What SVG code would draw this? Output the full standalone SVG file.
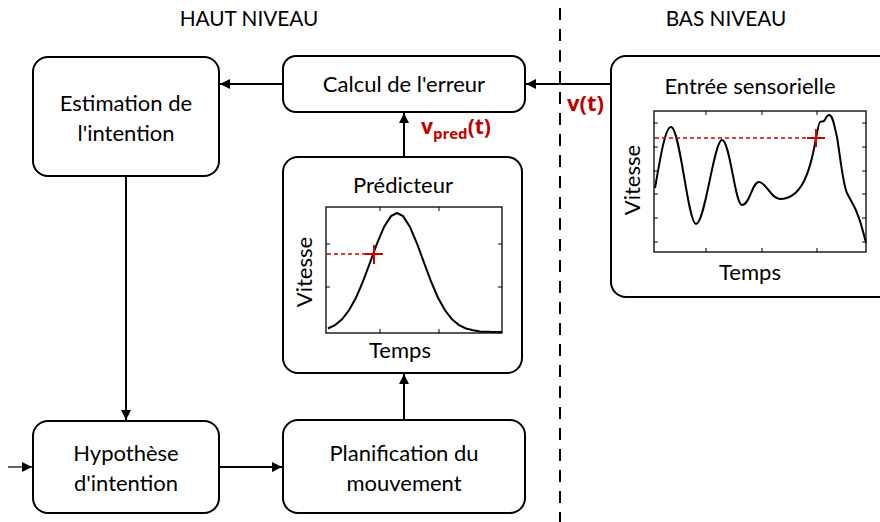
<svg xmlns="http://www.w3.org/2000/svg" width="880" height="522" viewBox="0 0 880 522">
<style>
.box{fill:#fff;stroke:#000;stroke-width:2}
.t{font-family:Lato,"Open Sans","Liberation Sans",sans-serif;font-size:22px;fill:#000;text-anchor:middle}
.h{font-size:20.8px}
.conn{stroke:#000;stroke-width:2;fill:none}
.axis{fill:#fff;stroke:#000;stroke-width:1.3}
.curve{fill:none;stroke:#000;stroke-width:2}
.red{fill:#c00000;font-family:"Open Sans","Liberation Sans",sans-serif;font-weight:bold}
.rdash{stroke:#d00000;stroke-width:1.6;stroke-dasharray:4,3;fill:none}
.cross{stroke:#d00000;stroke-width:2}
.tick{stroke:#000;stroke-width:1}
</style>
<defs>
<marker id="ah" viewBox="0 0 10 10" refX="10" refY="5" markerWidth="14" markerHeight="10" markerUnits="userSpaceOnUse" orient="auto">
<path d="M0,0 L10,5 L0,10 z" fill="#000"/>
</marker>
</defs>

<text class="t h" x="249" y="26">HAUT NIVEAU</text>
<text class="t h" x="726" y="26">BAS NIVEAU</text>
<line x1="560" y1="8" x2="560" y2="522" stroke="#000" stroke-width="2" stroke-dasharray="12,9"/>

<g id="connectors">
<line class="conn" x1="283" y1="84" x2="220" y2="84" marker-end="url(#ah)"/>
<line class="conn" x1="611" y1="84" x2="526" y2="84" marker-end="url(#ah)"/>
<line class="conn" x1="404" y1="157" x2="404" y2="113" marker-end="url(#ah)"/>
<line class="conn" x1="126" y1="176" x2="126" y2="420" marker-end="url(#ah)"/>
<line class="conn" x1="219" y1="467" x2="282" y2="467" marker-end="url(#ah)"/>
<line class="conn" x1="404" y1="420" x2="404" y2="374" marker-end="url(#ah)"/>
<line x1="8" y1="467" x2="32" y2="467" stroke="#000" stroke-width="1.2" marker-end="url(#ah)"/>
<text class="red" x="421" y="134" font-size="21">v<tspan font-size="15" dy="5">pred</tspan><tspan dy="-5">(t)</tspan></text>
<text class="red" x="567" y="111" font-size="22">v(t)</text>
</g>

<g id="estimation">
<rect class="box" x="33" y="57" width="186" height="119" rx="15"/>
<text class="t" x="126" y="111">Estimation de</text>
<text class="t" x="126" y="141">l'intention</text>
</g>

<g id="calcul">
<rect class="box" x="283" y="56" width="242" height="56" rx="13"/>
<text class="t" x="404" y="92">Calcul de l'erreur</text>
</g>

<g id="hypothese">
<rect class="box" x="33" y="421" width="186" height="92" rx="15"/>
<text class="t" x="126" y="461">Hypothèse</text>
<text class="t" x="126" y="491">d'intention</text>
</g>

<g id="planification">
<rect class="box" x="283" y="420" width="242" height="93" rx="15"/>
<text class="t" x="404" y="461">Planification du</text>
<text class="t" x="404" y="491">mouvement</text>
</g>

<g id="predicteur">
<rect class="box" x="283" y="157" width="239" height="216" rx="15"/>
<text class="t" x="403" y="193">Prédicteur</text>
<rect class="axis" x="326" y="207" width="176" height="126"/>
<line class="tick" x1="380" y1="333" x2="380" y2="329"/>
<line class="tick" x1="439" y1="333" x2="439" y2="329"/>
<line class="tick" x1="380" y1="207" x2="380" y2="211"/>
<line class="tick" x1="439" y1="207" x2="439" y2="211"/>
<line class="tick" x1="326" y1="244" x2="330" y2="244"/>
<line class="tick" x1="326" y1="287" x2="330" y2="287"/>
<line class="tick" x1="502" y1="244" x2="498" y2="244"/>
<line class="tick" x1="502" y1="287" x2="498" y2="287"/>
<polyline class="curve" points="328,328.5 335,325.1 342,319.3 349,310.3 356,297.7 363,281.4 370,262.6 377,243.5 384,227 391,216.1 397,213 403,216.1 410,227 417,243.5 424,262.6 431,281.4 438,297.7 445,310.3 452,319.3 459,325.1 466,328.5 473,330.3 480,331.4 490,331.8 502,332"/>
<line class="rdash" x1="327" y1="254" x2="372" y2="254"/>
<line class="cross" x1="365" y1="254" x2="383" y2="254"/>
<line class="cross" x1="374" y1="245" x2="374" y2="264"/>
<text class="t" x="400" y="358">Temps</text>
<text class="t" transform="translate(312,272) rotate(-90)">Vitesse</text>
</g>

<g id="sensorielle">
<rect class="box" x="611" y="56" width="290" height="241" rx="15"/>
<text class="t" x="750" y="94">Entrée sensorielle</text>
<rect class="axis" x="654" y="111" width="212" height="141"/>
<line class="tick" x1="706" y1="252" x2="706" y2="248"/>
<line class="tick" x1="762" y1="252" x2="762" y2="248"/>
<line class="tick" x1="817" y1="252" x2="817" y2="248"/>
<line class="tick" x1="706" y1="111" x2="706" y2="115"/>
<line class="tick" x1="762" y1="111" x2="762" y2="115"/>
<line class="tick" x1="817" y1="111" x2="817" y2="115"/>
<line class="tick" x1="866" y1="123" x2="862" y2="123"/>
<line class="tick" x1="866" y1="147" x2="862" y2="147"/>
<line class="tick" x1="866" y1="171" x2="862" y2="171"/>
<line class="tick" x1="866" y1="194" x2="862" y2="194"/>
<line class="tick" x1="866" y1="218" x2="862" y2="218"/>
<line class="tick" x1="866" y1="242" x2="862" y2="242"/>
<line class="tick" x1="654" y1="123" x2="658" y2="123"/>
<line class="tick" x1="654" y1="147" x2="658" y2="147"/>
<line class="tick" x1="654" y1="171" x2="658" y2="171"/>
<line class="tick" x1="654" y1="194" x2="658" y2="194"/>
<line class="tick" x1="654" y1="218" x2="658" y2="218"/>
<line class="tick" x1="654" y1="242" x2="658" y2="242"/>
<path class="curve" stroke-width="1.6" d="M655,188 C660,160 665,127 671,127 C680,127 688,224 696,224 C705,224 714,140 722,140 C730,140 735,205 742,205 C750,205 752,182 759,182 C766,182 771,199 780,199 C790,199 798,192 803,183 C809,172 814,150 816,138 C818,128 819,122 820,122 L824,121 C826,118 827,115 829,115 C833,115 834,125 837,137 C840,155 843,185 847,193 C852,203 855,207 857,213 C861,222 864,235 866,243"/>
<line class="rdash" x1="655" y1="138" x2="824" y2="138"/>
<line class="cross" x1="807" y1="138" x2="825" y2="138"/>
<line class="cross" x1="816" y1="129" x2="816" y2="147"/>
<text class="t" x="750" y="280">Temps</text>
<text class="t" transform="translate(640,180) rotate(-90)">Vitesse</text>
</g>
</svg>
